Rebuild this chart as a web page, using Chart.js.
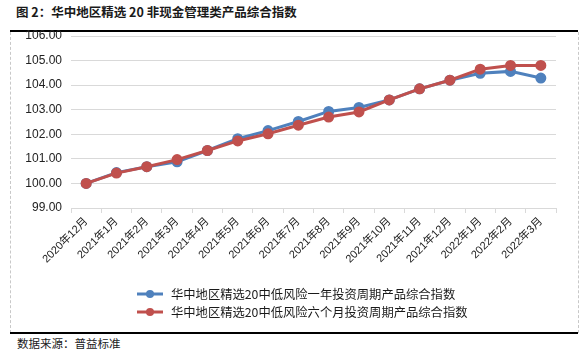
<!DOCTYPE html>
<html>
<head>
<meta charset="utf-8">
<script src="https://cdn.jsdelivr.net/npm/chart.js@4.4.0/dist/chart.umd.min.js"></script>
<style>
  html, body { margin: 0; padding: 0; background: #fff; }
  #wrap { position: relative; width: 587px; height: 353px; overflow: hidden; background: #fff; }
  #title { position: absolute; left: 16px; top: 2px; font: bold 12.5px "Noto Sans CJK SC", sans-serif; color: #1a1a1a; white-space: nowrap; }
  #source { position: absolute; left: 17px; top: 335px; font: 11.5px "Noto Sans CJK SC", sans-serif; color: #1a1a1a; white-space: nowrap; }
  .hline { position: absolute; left: 10px; width: 568px; height: 1.5px; background: #000; }
  .vdash { position: absolute; top: 32px; height: 301px; width: 0; border-left: 1px dashed #c8c8c8; }
  canvas { position: absolute; left: 0; top: 0; }
</style>
</head>
<body>
<div id="wrap">
  <div id="title">图 2：华中地区精选 20 非现金管理类产品综合指数</div>
  <div class="hline" style="top:30px"></div>
  <div class="vdash" style="left:10px"></div>
  <div class="vdash" style="left:578px"></div>
  <div class="hline" style="top:332px"></div>
  <div id="source">数据来源：普益标准</div>
  <canvas id="c" width="587" height="353"></canvas>
</div>
<script>
const categories = ["2020年12月","2021年1月","2021年2月","2021年3月","2021年4月","2021年5月","2021年6月","2021年7月","2021年8月","2021年9月","2021年10月","2021年11月","2021年12月","2022年1月","2022年2月","2022年3月"];
const seriesOneYear = [100.00, 100.44, 100.68, 100.88, 101.34, 101.82, 102.15, 102.52, 102.93, 103.09, 103.40, 103.85, 104.20, 104.48, 104.56, 104.29];
const seriesSixMonth = [100.00, 100.42, 100.68, 100.97, 101.34, 101.73, 102.02, 102.37, 102.70, 102.91, 103.40, 103.85, 104.20, 104.65, 104.80, 104.80];
const labelOneYear = "华中地区精选20中低风险一年投资周期产品综合指数";
const labelSixMonth = "华中地区精选20中低风险六个月投资周期产品综合指数";
const yTicks = [99, 100, 101, 102, 103, 104, 105, 106];

const BLUE = "#4F81BD", RED = "#C0504D";

const legendPlugin = {
  id: "customLegend",
  afterDraw(chart) {
    const ctx = chart.ctx;
    const rows = [294, 312];
    ctx.save();
    chart.data.datasets.forEach((ds, i) => {
      const y = rows[i];
      ctx.strokeStyle = ds.borderColor;
      ctx.lineWidth = 3;
      ctx.beginPath(); ctx.moveTo(137, y); ctx.lineTo(163, y); ctx.stroke();
      ctx.fillStyle = ds.borderColor;
      ctx.beginPath(); ctx.arc(150, y, 4, 0, Math.PI * 2); ctx.fill();
      ctx.fillStyle = "#1a1a1a";
      ctx.font = '12.3px "Noto Sans CJK SC", sans-serif';
      ctx.textBaseline = "middle";
      ctx.textAlign = "left";
      ctx.fillText(ds.label, 171, y);
    });
    ctx.restore();
  }
};

new Chart(document.getElementById("c"), {
  type: "line",
  data: {
    labels: categories,
    datasets: [
      { label: labelOneYear, data: seriesOneYear, borderColor: BLUE, backgroundColor: BLUE,
        pointBackgroundColor: BLUE, pointBorderColor: BLUE, borderWidth: 3, pointRadius: 4, tension: 0, order: 1 },
      { label: labelSixMonth, data: seriesSixMonth, borderColor: RED, backgroundColor: RED,
        pointBackgroundColor: RED, pointBorderColor: RED, borderWidth: 3, pointRadius: 4, tension: 0, order: 0 }
    ]
  },
  options: {
    responsive: false,
    animation: false,
    layout: { padding: { top: 36, right: 31, left: 0, bottom: 0 } },
    plugins: { legend: { display: false }, tooltip: { enabled: false }, title: { display: false } },
    scales: {
      x: {
        offset: true,
        grid: { offset: true, drawOnChartArea: false, drawTicks: true, tickLength: 5, color: "#d9d9d9" },
        border: { display: true, color: "#d9d9d9" },
        ticks: { autoSkip: false, minRotation: 45, maxRotation: 45, padding: 2, color: "#222",
          font: { family: '"Liberation Sans", "Noto Sans CJK SC", sans-serif', size: 11 } },
        afterFit(scale) { scale.height = 145; }
      },
      y: {
        min: 99, max: 106,
        afterBuildTicks(scale) { scale.ticks = yTicks.map(v => ({ value: v })); },
        grid: { drawTicks: false, color: "#d9d9d9" },
        border: { display: false },
        ticks: { padding: 9, color: "#222",
          font: { family: '"Liberation Sans", sans-serif', size: 12 },
          callback: v => Number(v).toFixed(2) },
        afterFit(scale) { scale.width = 71; }
      }
    }
  },
  plugins: [legendPlugin]
});
</script>
</body>
</html>
